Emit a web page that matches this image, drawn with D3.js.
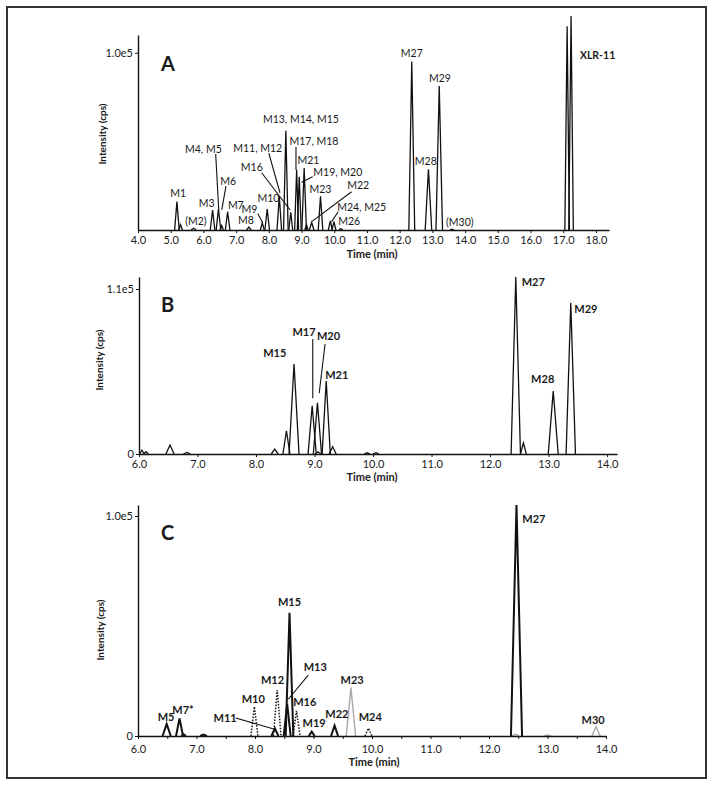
<!DOCTYPE html>
<html><head><meta charset="utf-8">
<script src="https://cdn.jsdelivr.net/npm/d3@7"></script>
<style>
body{margin:0;background:#fff}
text{font-family:Lato,"Open Sans","Noto Sans",sans-serif;fill:#1a1a1a}
</style></head>
<body><svg id="chart" width="714" height="786"></svg>
<script>
// ---------------- DATA ----------------
// Panel A: peaks (retention time in min, intensity in cps, half base width in min)
const aTimes   = [5.19, 5.30, 5.70, 6.28, 6.46, 6.56, 6.74, 7.39, 7.80, 7.95, 8.32, 8.52, 8.67, 8.85, 8.93, 9.08, 9.15, 9.31, 9.58, 9.88, 9.99, 10.20, 12.37, 12.88, 13.21, 13.60, 17.12, 17.24];
const aHeights = [16000, 3000, 1000, 11300, 12000, 2500, 10300, 1700, 4000, 11800, 19000, 56000, 10000, 34000, 30000, 35000, 3000, 4200, 19000, 5200, 4700, 800, 95000, 34200, 81200, 500, 115000, 120700];
const aWidths  = [0.07, 0.06, 0.08, 0.07, 0.07, 0.05, 0.07, 0.07, 0.06, 0.07, 0.07, 0.07, 0.06, 0.06, 0.06, 0.07, 0.05, 0.07, 0.07, 0.06, 0.06, 0.06, 0.09, 0.10, 0.10, 0.06, 0.07, 0.07];
const aTicks   = [4, 5, 6, 7, 8, 9, 10, 11, 12, 13, 14, 15, 16, 17, 18];
const aYTicks  = [100000];

// Panel B
const bTimes   = [6.05, 6.12, 6.53, 6.82, 8.32, 8.52, 8.65, 8.96, 9.05, 9.06, 9.20, 9.31, 9.90, 10.05, 12.44, 12.57, 13.08, 13.38];
const bHeights = [2500, 1500, 6000, 1100, 3300, 15500, 60000, 32200, 34200, 1500, 48700, 4900, 800, 900, 118000, 7500, 42000, 100900];
const bWidths  = [0.04, 0.04, 0.07, 0.06, 0.06, 0.06, 0.085, 0.07, 0.07, 0.05, 0.07, 0.06, 0.05, 0.05, 0.08, 0.05, 0.085, 0.08];
const bTicks   = [6, 7, 8, 9, 10, 11, 12, 13, 14];
const bYTicks  = [0, 110000];

// Panel C: three traces
const cBlackTimes   = [6.49, 6.71, 6.78, 7.12, 8.34, 8.55, 8.59, 8.97, 9.36, 12.47];
const cBlackHeights = [5500, 8000, 800, 600, 3500, 14500, 56000, 2000, 4700, 105000];
const cBlackWidths  = [0.07, 0.06, 0.04, 0.06, 0.06, 0.06, 0.065, 0.05, 0.06, 0.095];
const cDottedTimes   = [7.99, 8.38, 8.71, 9.94];
const cDottedHeights = [13300, 20900, 11400, 3500];
const cDottedWidths  = [0.06, 0.065, 0.06, 0.06];
const cGrayTimes   = [9.64, 12.45, 13.00, 13.83];
const cGrayHeights = [22000, 800, 500, 4200];
const cGrayWidths  = [0.08, 0.06, 0.06, 0.07];
const cTicks      = [6, 7, 8, 9, 10, 11, 12, 13, 14];
const cMinorTicks = [6.5, 7.5, 8.5, 9.5, 10.5, 11.5, 12.5, 13.5];
const cYTicks     = [0, 100000];

// Annotations (text, time, intensity, anchor)
const aLabels = [
  ["M1",5.23,18600,"middle"],["(M2)",5.77,2800,"middle"],["M3",6.10,13000,"middle"],["M4, M5",6.0,43400,"middle"],
  ["M6",6.76,25400,"middle"],["M7",6.99,11800,"middle"],["M8",7.30,3400,"middle"],["M9",7.41,9600,"middle"],
  ["M10",7.99,15600,"middle"],["M11, M12",7.66,44000,"middle"],["M16",7.48,33300,"middle"],
  ["M13, M14, M15",8.98,60300,"middle"],["M17, M18",9.38,47900,"middle"],["M21",9.21,37200,"middle"],
  ["M19, M20",9.36,30500,"start"],["M23",9.58,20900,"middle"],["M22",10.73,23100,"middle"],
  ["M24, M25",10.09,10700,"start"],["M26",10.12,2800,"start"],["M27",12.37,97600,"middle"],
  ["M28",12.80,36700,"middle"],["M29",13.23,83500,"middle"],["(M30)",13.84,2300,"middle"]
];
const aLeaders = [
  [6.375,42900,6.467,11800],[6.69,24800,6.56,11300],[7.66,9300,7.81,4100],[8.0,43300,8.34,21000],
  [7.78,32300,8.65,11300],[8.83,46800,8.83,33800],[9.34,30100,9.0,26900],[10.53,21600,9.31,4700],[10.12,10300,9.92,4700]
];
const bLabels = [
  ["M15",8.32,64700,"middle"],["M17",8.82,78700,"middle"],["M20",9.24,76000,"middle"],["M21",9.38,50000,"middle"],
  ["M27",12.54,112000,"start"],["M28",12.90,47300,"middle"],["M29",13.44,94000,"start"]
];
const bLeaders = [[8.97,76700,8.97,37100],[9.18,73300,9.08,40500]];
const cLabels = [
  ["M5",6.48,6800,"middle"],["M7*",6.77,10000,"middle"],["M10",7.97,15000,"middle"],["M11",7.49,6400,"middle"],
  ["M12",8.30,23600,"middle"],["M13",9.03,29500,"middle"],["M15",8.59,59000,"middle"],["M16",8.85,13600,"middle"],
  ["M19",9.01,4100,"middle"],["M22",9.40,8200,"middle"],["M23",9.66,23600,"middle"],["M24",9.97,6800,"middle"],
  ["M27",12.57,96800,"start"],["M30",13.78,5500,"middle"]
];
const cLeaders = [[7.67,8200,8.32,3200],[8.91,27700,8.57,16700]];

// ---------------- DRAWING ----------------
const svg = d3.select("#chart");
svg.append("rect").attr("x",7).attr("y",7).attr("width",699).attr("height",771)
  .attr("fill","none").attr("stroke","#333").attr("stroke-width",2);

const fmtY = d => d === 0 ? "0" : (d/100000).toFixed(1) + "e5";

function drawPanel(p) {
  const g = svg.append("g");
  const x = d3.scaleLinear().domain(p.xDomain).range([p.left, p.right]);
  const y = d3.scaleLinear().domain(p.yDomain).range([p.base, p.top]);
  const line = d3.line().x(d => x(d[0])).y(d => y(d[1]));

  // traces
  p.traces.forEach(tr => {
    const tg = g.append("g").attr("fill","none").attr("stroke",tr.color)
      .attr("stroke-width",tr.sw).attr("stroke-linejoin","miter");
    if (tr.dash) tg.attr("stroke-dasharray",tr.dash);
    tr.times.forEach((t,i) => {
      const w = tr.widths[i];
      tg.append("path").attr("d", line([[t-w,0],[t,tr.heights[i]],[t+w,0]]));
    });
  });

  // axes
  g.append("g").attr("transform",`translate(0,${p.base})`)
    .call(d3.axisBottom(x).tickValues(p.xTicks).tickFormat(d3.format(".1f"))
      .tickSize(p.tickLen).tickSizeOuter(0).tickPadding(p.xPad));
  if (p.minor) {
    g.append("g").attr("transform",`translate(0,${p.base})`)
      .call(d3.axisBottom(x).tickValues(p.minor).tickFormat("").tickSize(p.tickLen).tickSizeOuter(0))
      .select(".domain").remove();
  }
  g.append("g").attr("transform",`translate(${p.left},0)`)
    .call(d3.axisLeft(y).tickValues(p.yTicks).tickFormat(fmtY).tickSize(3).tickSizeOuter(0).tickPadding(2));
  g.selectAll(".domain").attr("stroke","#111").attr("stroke-width",1.4);
  g.selectAll(".tick line").attr("stroke","#111");
  g.selectAll(".tick text").style("font-size","11px").style("font-family","Lato, sans-serif").attr("fill","#1a1a1a");

  // axis titles
  g.append("text").attr("x",p.xTitle[0]).attr("y",p.xTitle[1]).attr("text-anchor","middle")
    .style("font-size","11px").style("font-weight","bold").text("Time (min)");
  g.append("text").attr("transform",`translate(${p.yTitle[0]},${p.yTitle[1]}) rotate(-90)`)
    .attr("text-anchor","middle").attr("dy","0.35em")
    .style("font-size","10px").style("font-weight","bold").text("Intensity (cps)");

  // panel letter
  g.append("text").attr("x",p.letterPos[0]).attr("y",p.letterPos[1])
    .style("font-size","20px").style("font-weight","bold").text(p.letter);

  // leaders
  p.leaders.forEach(l => {
    g.append("line").attr("x1",x(l[0])).attr("y1",y(l[1])).attr("x2",x(l[2])).attr("y2",y(l[3]))
      .attr("stroke","#111").attr("stroke-width",1.1);
  });
  // labels
  p.labels.forEach(l => {
    g.append("text").attr("x",x(l[1])).attr("y",y(l[2])).attr("text-anchor",l[3])
      .style("font-size",p.labelSize).style("font-weight",p.bold ? "bold" : "normal").text(l[0]);
  });
  return {g,x,y};
}

const A = drawPanel({
  left:138,right:609,base:230,top:35,xDomain:[4,18.4],yDomain:[0,110000],
  xTicks:aTicks,yTicks:aYTicks,tickLen:3,xPad:3,
  traces:[{times:aTimes,heights:aHeights,widths:aWidths,color:"#111",sw:1.3}],
  xTitle:[372,258],yTitle:[102,134],letter:"A",letterPos:[161,71],
  labels:aLabels,leaders:aLeaders,bold:false,labelSize:"10.5px"
});
A.g.append("text").attr("x",A.x(17.51)).attr("y",A.y(96400))
  .style("font-size","10.5px").style("font-weight","bold").text("XLR-11");

drawPanel({
  left:139,right:617,base:454,top:277,xDomain:[6,14.17],yDomain:[0,118000],
  xTicks:bTicks,yTicks:bYTicks,tickLen:3,xPad:3,
  traces:[{times:bTimes,heights:bHeights,widths:bWidths,color:"#111",sw:1.3}],
  xTitle:[372,481],yTitle:[99,360],letter:"B",letterPos:[161,312],
  labels:bLabels,leaders:bLeaders,bold:true,labelSize:"11px"
});

drawPanel({
  left:138,right:606,base:736,top:505,xDomain:[6,14],yDomain:[0,105000],
  xTicks:cTicks,yTicks:cYTicks,tickLen:3,xPad:6,minor:cMinorTicks,
  traces:[
    {times:cGrayTimes,heights:cGrayHeights,widths:cGrayWidths,color:"#a8a8a8",sw:1.4},
    {times:cDottedTimes,heights:cDottedHeights,widths:cDottedWidths,color:"#111",sw:1.5,dash:"1.5,1.5"},
    {times:cBlackTimes,heights:cBlackHeights,widths:cBlackWidths,color:"#111",sw:2}
  ],
  xTitle:[374,766],yTitle:[100,630],letter:"C",letterPos:[161,540],
  labels:cLabels,leaders:cLeaders,bold:true,labelSize:"11px"
});
</script></body></html>
